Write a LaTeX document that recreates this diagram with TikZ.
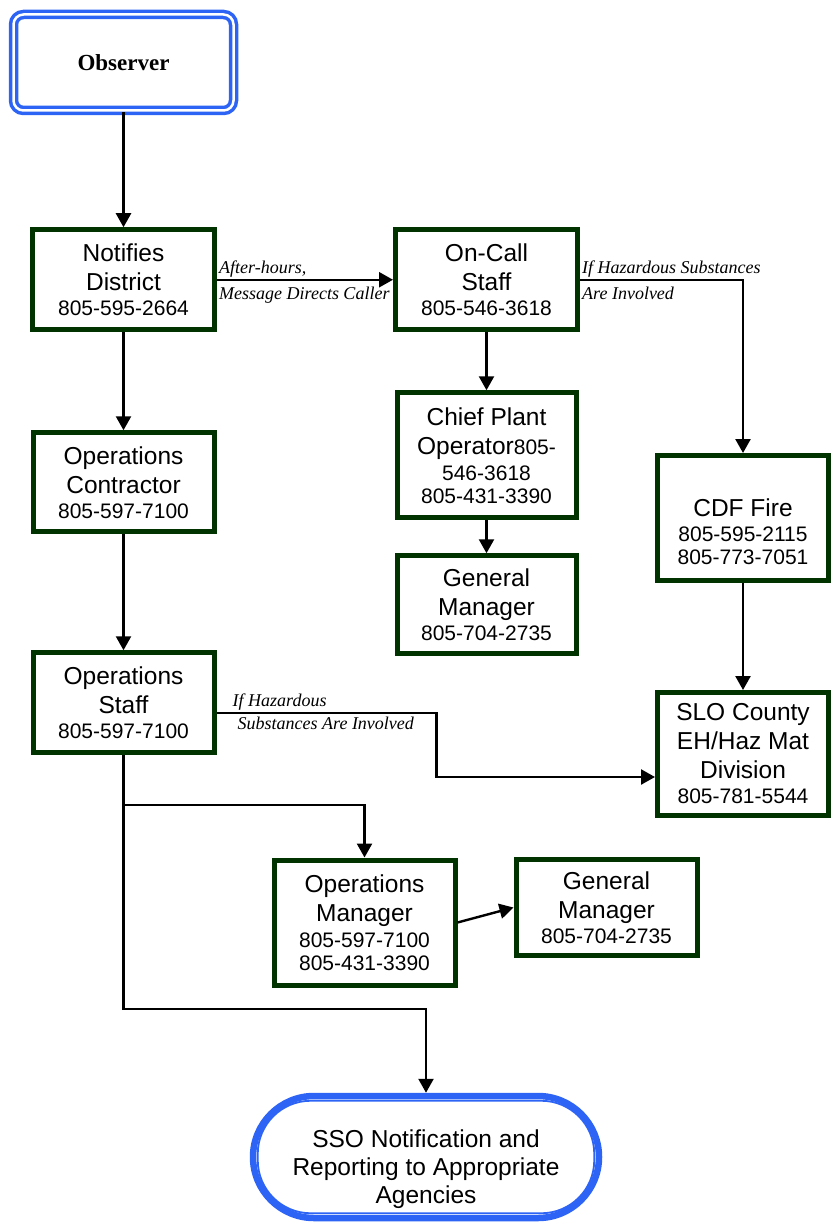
\documentclass[tikz,border=0pt]{standalone}
\usepackage{fontspec}
\setmainfont{Liberation Sans}
\newfontfamily\lblfont{Liberation Serif}
\usetikzlibrary{arrows.meta,positioning}
\definecolor{BoxGreen}{RGB}{0,51,0}
\definecolor{EndBlue}{RGB}{45,100,245}
\newcommand{\phn}[1]{{\fontsize{21}{24}\selectfont #1}}

\begin{document}
\begin{tikzpicture}[x=1pt, y=-1pt,
    box/.style={draw=BoxGreen, line width=5pt, fill=white, align=center,
                minimum width=181pt, minimum height=99pt, inner sep=2pt,
                font=\fontsize{24.5}{29}\selectfont},
    tall/.style={box, minimum height=125pt},
    obs/.style={draw=EndBlue, line width=3.5pt, double=white, double distance=2.5pt,
                rounded corners=10pt, minimum width=220pt, minimum height=96pt,
                font=\lblfont\bfseries\fontsize{23}{27}\selectfont},
    term/.style={draw=EndBlue, line width=6.5pt, rounded corners=61pt, align=center,
                 minimum width=346pt, minimum height=122pt,
                 font=\fontsize{24.5}{28}\selectfont},
    arr/.style={-{Triangle[length=14pt,width=15pt]}, line width=2.4pt},
    lbl/.style={font=\lblfont\itshape\fontsize{18}{20}\selectfont, inner sep=1pt}
  ]
  \useasboundingbox (0,0) rectangle (830,1222);
  % left column
  \node[obs] (obs) at (123.5,62.5) {Observer};
  \node[box, minimum width=182pt, minimum height=100pt, below=115pt of obs] (notif)
    {Notifies\\ District\\[-4pt] \phn{805-595-2664}};
  \node[box, below=98pt of notif] (opc)
    {Operations\\ Contractor\\[-4pt] \phn{805-597-7100}};
  \node[box, minimum height=100pt, below=116pt of opc] (ops)
    {Operations\\ Staff\\[-4pt] \phn{805-597-7100}};
  % middle column
  \node[box, minimum width=182pt, minimum height=100pt, right=176pt of notif] (oncall)
    {On-Call\\ Staff\\[-4pt] \phn{805-546-3618}};
  \node[tall, minimum width=179pt, below=58pt of oncall] (chief)
    {Chief Plant\\ Operator\phn{805-}\\[-3pt] \phn{546-3618}\\[-6pt] \phn{805-431-3390}};
  \node[box, minimum width=179pt, minimum height=98pt, below=33pt of chief] (gm1)
    {General\\ Manager\\[-4pt] \phn{805-704-2735}};
  % right column (empty first row pushes the text down)
  \node[tall, minimum width=171pt] (cdf) at (743,518)
    {{}\\[17pt] CDF Fire\\[-4pt] \phn{805-595-2115}\\[-6pt] \phn{805-773-7051}};
  \node[tall, minimum width=171pt, minimum height=123pt, below=107pt of cdf] (slo)
    {SLO County\\ EH/Haz Mat\\ Division\\[-4pt] \phn{805-781-5544}};
  % bottom row
  \node[tall] (opm) at (364.5,922.5)
    {Operations\\ Manager\\[-3pt] \phn{805-597-7100}\\[-6pt] \phn{805-431-3390}};
  \node[box, minimum height=96pt, right=56pt of opm, yshift=15pt] (gm2)
    {General\\ Manager\\[-4pt] \phn{805-704-2735}};
  \node[term] (sso) at (426,1157)
    {{}\\[14pt] SSO Notification and\\ Reporting to Appropriate\\ Agencies};
  \draw[EndBlue, line width=1.8pt, rounded corners=53pt]
    ([shift={(8pt,-8pt)}]sso.north west) rectangle ([shift={(-8pt,8pt)}]sso.south east);
  % spines
  \foreach \a/\b in {obs/notif,notif/opc,opc/ops,oncall/chief,chief/gm1,cdf/slo}
    \draw[arr] (\a) -- (\b);
  \draw[arr] (notif) -- (oncall)
    node[lbl, pos=0, anchor=south west] {After-hours,}
    node[lbl, pos=0, anchor=north west, yshift=-5pt] {Message Directs Caller};
  \draw[arr] (oncall.east)
    node[lbl, anchor=south west] {If Hazardous Substances}
    node[lbl, anchor=north west, yshift=-5pt] {Are Involved} -| (cdf.north);
  % hazardous branch from operations staff
  \coordinate (opsout) at ([yshift=-10pt]ops.east);
  \coordinate (sloin) at ([yshift=-23pt]slo.west);
  \draw[arr] (opsout)
    node[lbl, anchor=south west, xshift=14pt] {If Hazardous}
    node[lbl, anchor=north west, xshift=19pt, yshift=-2pt] {Substances Are Involved}
    -- ++(220,0) |- (sloin);
  \draw[arr] (ops.south) -- ++(0,50) -| (opm.north);
  \draw[arr] (ops.south) -- ++(0,254) -| (sso.north);
  \draw[arr] (opm.east) -- (gm2.west);
\end{tikzpicture}
\end{document}
